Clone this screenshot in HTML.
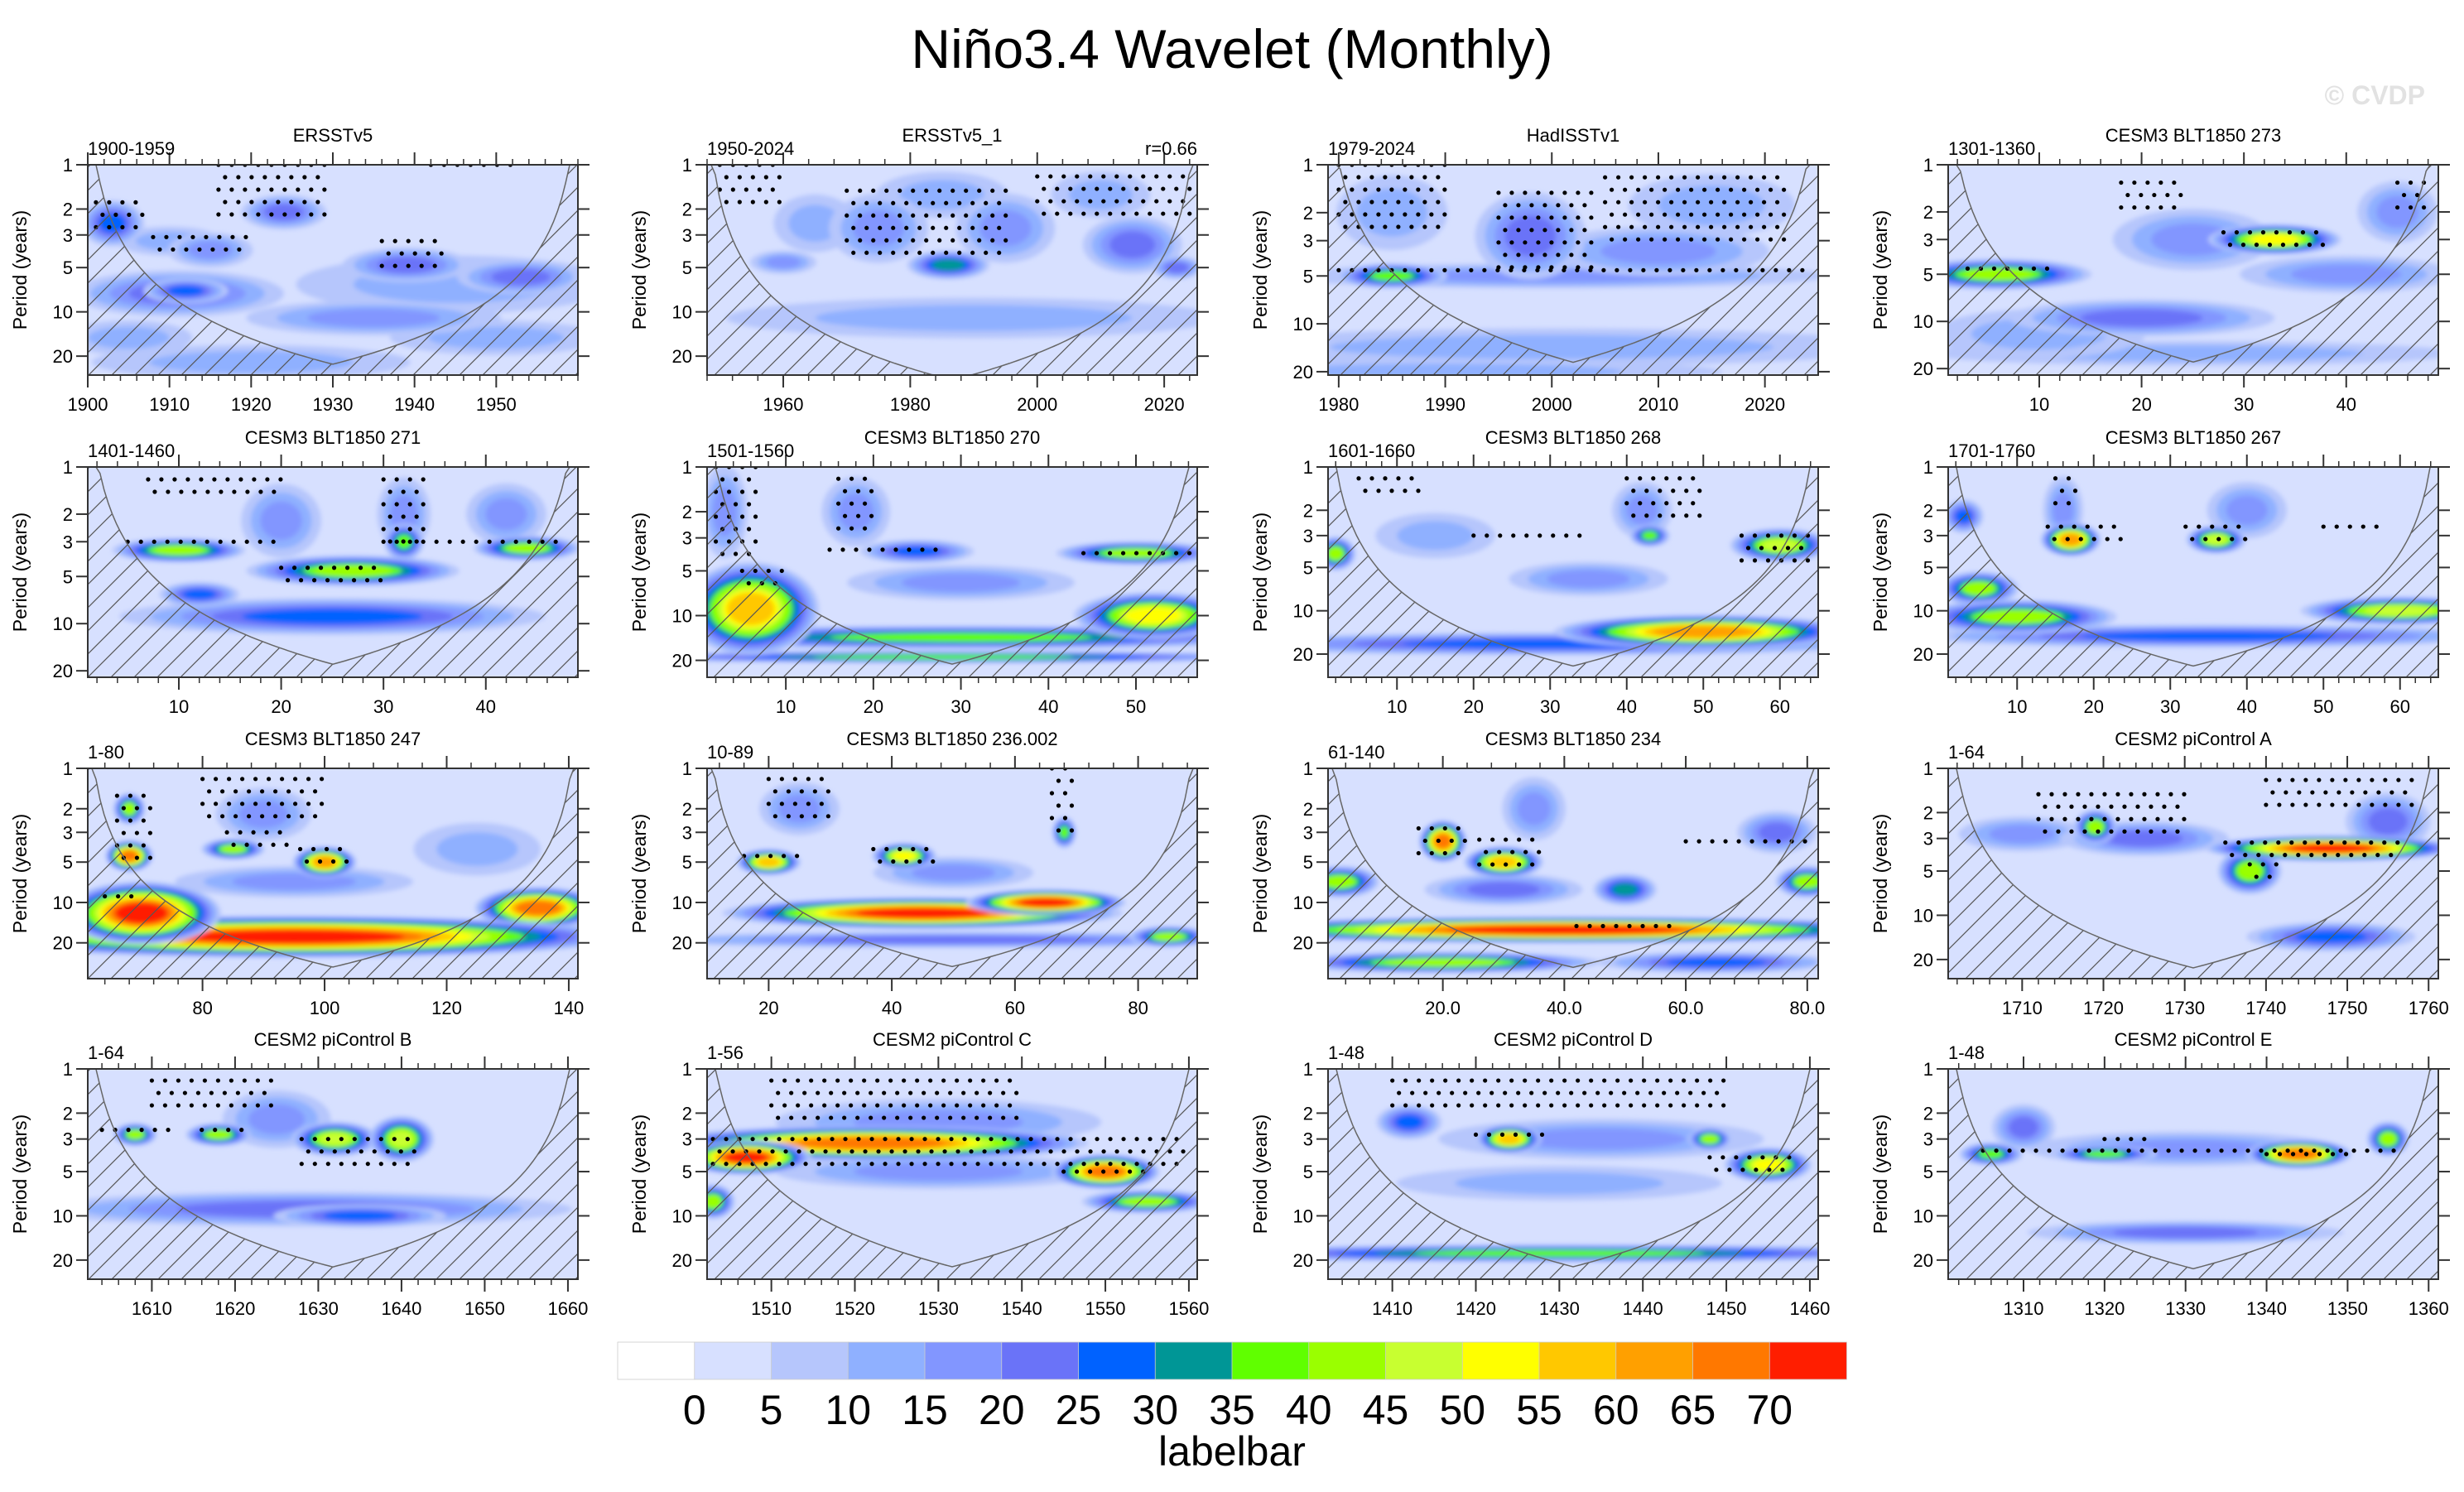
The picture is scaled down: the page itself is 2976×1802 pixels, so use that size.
<!DOCTYPE html>
<html><head><meta charset="utf-8"><style>
html,body{margin:0;padding:0;background:#fff}
svg{display:block;font-family:"Liberation Sans",sans-serif}
</style></head><body>
<svg id="chart" width="2976" height="1802" viewBox="0 0 2976 1802" xmlns="http://www.w3.org/2000/svg">
<defs>
<filter id="soft" x="-20%" y="-20%" width="140%" height="140%"><feGaussianBlur stdDeviation="3"/></filter>
<pattern id="hatch" width="28" height="28" patternUnits="userSpaceOnUse"><path d="M-7,35 L35,-7 M-7,7 L7,-7 M21,35 L35,21" stroke="#555" stroke-width="1.2"/></pattern>
</defs>
<text x="1488" y="82" text-anchor="middle" font-size="66">Niño3.4 Wavelet (Monthly)</text>
<text x="2929" y="126" text-anchor="end" font-size="32" font-weight="bold" fill="#e2e2e2">© CVDP</text>
<g id="panels"></g>
<g id="colorbar"></g>
</svg>
<script>
const levelColors = ["#ffffff","#d7e0ff","#b6c6fc","#8fb0ff","#8296ff","#6a73f8","#0062ff","#009696","#60ff00","#9aff00","#c8ff30","#ffff00","#ffc800","#ffa000","#ff7800","#ff1e00"];
const colorbarLabels = ["0","5","10","15","20","25","30","35","40","45","50","55","60","65","70"];
const panelTitles = ["ERSSTv5","ERSSTv5_1","HadISSTv1","CESM3 BLT1850 273","CESM3 BLT1850 271","CESM3 BLT1850 270","CESM3 BLT1850 268","CESM3 BLT1850 267","CESM3 BLT1850 247","CESM3 BLT1850 236.002","CESM3 BLT1850 234","CESM2 piControl A","CESM2 piControl B","CESM2 piControl C","CESM2 piControl D","CESM2 piControl E"];
const panelRanges = ["1900-1959","1950-2024","1979-2024","1301-1360","1401-1460","1501-1560","1601-1660","1701-1760","1-80","10-89","61-140","1-64","1-64","1-56","1-48","1-48"];
const panelXMin = [1900,1948,1979,1.1,1.1,1,1,1,61.2,10,1.1,1700.9,1602.3,1502.3,1402.3,1300.7];
const panelXMax = [1960,2025.2,2025,49,49,57,65,65,141.5,89.6,81.8,1761.2,1661.2,1561,1461,1361.2];
const panelXTicks = [[1900,1910,1920,1930,1940,1950],[1960,1980,2000,2020],[1980,1990,2000,2010,2020],[10,20,30,40],[10,20,30,40],[10,20,30,40,50],[10,20,30,40,50,60],[10,20,30,40,50,60],[80,100,120,140],[20,40,60,80],[20,40,60,80],[1710,1720,1730,1740,1750,1760],[1610,1620,1630,1640,1650,1660],[1510,1520,1530,1540,1550,1560],[1410,1420,1430,1440,1450,1460],[1310,1320,1330,1340,1350,1360]];
const panelTickDecimals = [0,0,0,0,0,0,0,0,0,0,1,0,0,0,0,0];
const panelPmax = [26.9,26.9,21,22,22,26,29,29,37,37,37,27,27,27,27,27];
const periodTicks = [1,2,3,5,10,20];
// blobs: [time, period, half-width (years), half-height (octaves), level]
const panelBlobs = [
 [[1945,6.5,15,0.5,3],[1935,11,12,0.3,4],[1910,3.3,5,0.25,3],[1915,3.8,4,0.3,4],[1911,7.5,10,0.4,5],[1912,7.2,4,0.22,6],[1903,2.5,3,0.4,6],[1924,2.1,4,0.3,5],[1939,4.8,6,0.3,5],[1953,5.8,6,0.3,5],[1920,22,15,0.3,3],[1950,15,10,0.3,3],[1905,15,6,0.3,3]],
 [[1990,11,30,0.35,3],[1975,2.7,6,0.6,4],[1995,2.7,6,0.6,4],[1986,4.8,5,0.25,7],[1960,4.6,4,0.2,4],[2015,3.5,6,0.5,5],[2022,5,3,0.2,5],[1985,1.6,8,0.4,3],[1965,2.5,5,0.5,3],[2010,1.6,6,0.4,3]],
 [[1985,5,4,0.2,8],[2000,5,20,0.2,4],[1998,2.8,4,0.7,5],[2010,3.5,8,0.4,4],[2000,14,25,0.3,3],[1990,20,20,0.2,3],[2015,1.8,6,0.5,3],[1985,2,4,0.6,3]],
 [[6,5,7,0.25,9],[33,3,5,0.25,11],[20,9.5,10,0.3,5],[25,3,6,0.5,4],[40,5,8,0.3,4],[25,16,20,0.2,3],[45,2,3,0.5,4],[10,12,8,0.4,3]],
 [[10,3.4,5,0.2,9],[27,4.6,8,0.25,9],[32,3,1.5,0.3,8],[44,3.3,4,0.2,9],[25,9,16,0.3,6],[12,6.5,3,0.2,6],[20,2.2,3,0.6,4],[32,2,2,0.6,4],[42,2,3,0.5,4]],
 [[6,9,6,0.8,12],[30,14,30,0.2,8],[50,3.8,7,0.2,9],[52,10,7,0.4,11],[25,3.7,5,0.2,6],[28,19,30,0.1,8],[18,2,3,0.6,4],[3,2,2,0.8,4],[30,6,10,0.3,4]],
 [[50,14,15,0.3,13],[30,17,35,0.2,6],[43,3,2,0.2,8],[60,3.5,5,0.3,10],[2,4,2,0.3,9],[35,6,8,0.3,4],[42,2,3,0.5,4],[15,3,6,0.4,3]],
 [[17,3.2,3,0.3,13],[36,3.2,3,0.25,10],[5,7,4,0.3,9],[10,11,10,0.3,9],[60,10,10,0.25,10],[35,15,30,0.2,6],[3,2.2,2,0.3,6],[16,2,2,0.6,4],[40,2,4,0.5,4]],
 [[95,18,42,0.4,15],[70,12,10,0.6,15],[135,11,8,0.4,14],[68,4.5,3,0.3,14],[68,2,2,0.3,9],[85,4,4,0.2,9],[100,5,4,0.3,13],[95,7,15,0.3,4],[90,2.2,6,0.5,4],[125,4,8,0.5,3]],
 [[20,5,4,0.25,12],[42,4.5,4,0.25,11],[45,12,25,0.3,15],[65,10,10,0.25,15],[85,18,5,0.2,9],[50,19,40,0.15,5],[68,3,1.5,0.3,8],[25,2,5,0.5,4],[50,6,10,0.3,4]],
 [[40,16,45,0.25,15],[20,3.5,3,0.4,14],[30,5,5,0.3,12],[3,7,5,0.3,9],[80,7,4,0.3,9],[20,28,20,0.2,9],[50,8,4,0.3,7],[65,28,15,0.2,6],[30,8,10,0.3,5],[35,2,4,0.6,4],[75,3,5,0.4,5]],
 [[1748,3.5,12,0.22,15],[1738,5,3,0.4,9],[1719,2.5,2,0.3,9],[1748,14,8,0.25,6],[1725,3,8,0.3,5],[1710,2.8,6,0.3,4],[1755,2.3,4,0.5,5]],
 [[1608,2.8,2,0.2,9],[1618,2.8,3,0.2,9],[1632,3,4,0.3,10],[1640,3,3,0.4,10],[1628,9,25,0.3,5],[1625,2.2,5,0.5,4],[1635,10,8,0.2,6]],
 [[1522,3.2,20,0.3,14],[1507,4,6,0.3,15],[1550,5,5,0.3,14],[1555,8,6,0.2,9],[1503,8,2,0.3,9],[1530,2.3,15,0.4,4],[1530,5,15,0.3,4]],
 [[1424,3,3,0.25,12],[1455,4.5,4,0.3,11],[1448,3,2,0.2,9],[1430,18,35,0.15,8],[1412,2.3,3,0.3,6],[1435,3,15,0.35,4],[1430,6,15,0.3,3]],
 [[1344,3.8,5,0.25,14],[1355,3,2,0.3,9],[1320,3.8,5,0.15,8],[1306,3.8,3,0.2,8],[1330,13,15,0.2,5],[1310,2.5,3,0.4,5],[1330,3.5,15,0.3,4]]
];
// significance stipple regions: [t0, t1, p0, p1]
const panelDots = [
 [[1901,1907,1.8,3.2],[1908,1920,3.1,4.2],[1916,1929,1,2.5],[1936,1944,3.3,5],[1942,1952,1,1.2]],
 [[1970,1996,1.5,4.5],[2000,2024,1.2,2.5],[1950,1960,1,2]],
 [[1980,2024,4.6,5.2],[1995,2004,1.5,4.5],[1980,1990,1,2.5],[2005,2022,1.2,3]],
 [[3,12,4.6,5.4],[28,38,2.7,3.6],[18,24,1.3,2],[45,48,1.3,2.2]],
 [[5,20,3,3.6],[20,30,4.4,5.5],[30,47,3,3.6],[7,20,1.2,1.6],[30,34,1.2,3]],
 [[2,7,1,4],[16,20,1.2,3],[15,28,3.6,4.2],[44,57,3.8,4.4],[5,10,5,7]],
 [[5,13,1.2,1.6],[20,34,3,3.6],[40,50,1.2,2.5],[55,64,3,4.5]],
 [[14,24,2.6,3.6],[32,40,2.6,3.6],[15,18,1.2,2],[50,58,2.6,3]],
 [[66,72,1.6,5.5],[84,94,3,4],[96,104,4,5.5],[80,100,1.2,2.6],[64,70,9,11]],
 [[16,26,4.5,5.5],[37,47,4,5],[66,70,1,3],[20,30,1.2,2.5]],
 [[16,24,2.8,5],[26,36,3.4,5.5],[42,58,15,16],[60,80,3.5,4]],
 [[1735,1757,3.2,4.2],[1738,1742,4.5,6],[1712,1730,1.5,2.8],[1740,1758,1.2,1.8]],
 [[1604,1612,2.6,3],[1616,1622,2.6,3],[1628,1642,3,4.8],[1610,1625,1.2,2]],
 [[1503,1560,3,5],[1510,1540,1.2,2.4],[1545,1556,5,6]],
 [[1420,1428,2.8,3.4],[1448,1458,4,5],[1410,1450,1.2,2]],
 [[1305,1356,3.6,4],[1340,1350,3.8,4.6],[1320,1325,3,3.5]]
];

const colLeft = [106,854,1604,2353], rowTop = [199,564,928,1291], PW = 592, PH = 254;
const NS = "http://www.w3.org/2000/svg";
function mk(tag, attrs, parent){const e=document.createElementNS(NS,tag);for(const k in attrs)e.setAttribute(k,attrs[k]);if(parent)parent.appendChild(e);return e;}
const root = document.getElementById('panels');

for(let i=0;i<16;i++){
  const L = colLeft[i%4], T = rowTop[Math.floor(i/4)];
  const x0 = panelXMin[i], x1 = panelXMax[i], pmax = panelPmax[i];
  const xs = t => L + (t-x0)/(x1-x0)*PW;
  const ys = p => T + Math.log(p)/Math.log(pmax)*PH;
  const pxYear = PW/(x1-x0), pxOct = PH/ (Math.log(pmax)/Math.log(2));
  const g = mk('g',{},root);
  
  
  const cid='clip'+i;
  const cp = mk('clipPath',{id:cid},g); mk('rect',{x:L,y:T,width:PW,height:PH},cp);
  const plot = mk('g',{'clip-path':'url(#'+cid+')'},g);
  const bg = mk('rect',{x:L,y:T,width:PW,height:PH,fill:levelColors[1]},plot);
  
  
  const bl = mk('g',{filter:'url(#soft)'},plot);
  const blobs = panelBlobs[i].slice().sort((a,b)=>a[4]-b[4]);
  blobs.forEach(b=>{
    const lev=b[4];
    for(let c=2;c<=lev;c++){
      const s = 1.3*(1-(c-2)/Math.max(1,lev-1)*0.72);
      const e = mk('ellipse',{cx:xs(b[0]),cy:ys(b[1]),rx:b[2]*pxYear*s,ry:b[3]*pxOct*s,fill:levelColors[c]},bl);
      
      
    }
  });
  panelDots[i].forEach(r=>{
    const xa=xs(r[0]),xb=xs(r[1]),ya=ys(r[2]),yb=ys(r[3]);
    let row=0;
    for(let y=ya;y<=yb;y+=15,row++){
      for(let x=xa+(row%2)*8;x<=xb;x+=16){
        const d=mk('circle',{cx:x,cy:y,r:2.6,fill:'#000'},plot);
        
        
      }
    }
  });
  let pts=[];
  for(let k=0;k<=120;k++){
    const t=x0+(x1-x0)*k/120; const d=Math.min(t-x0,x1-t);
    const p=Math.min(pmax,Math.max(1,0.75*d+0.2));
    pts.push(xs(t).toFixed(1)+','+ys(p).toFixed(1));
  }
  const hat = mk('polygon',{points:pts.join(' ')+' '+(L+PW)+','+(T+PH)+' '+L+','+(T+PH),fill:'url(#hatch)',stroke:'none'},plot);
  
  
  const coi = mk('polyline',{points:pts.join(' '),fill:'none',stroke:'#666','stroke-width':1.5},plot);
  
  
  const fr = mk('rect',{x:L,y:T,width:PW,height:PH,fill:'none',stroke:'#333','stroke-width':2},g);
  
  
  periodTicks.forEach(p=>{
    const y=ys(p); if(y>T+PH+1)return;
    mk('line',{x1:L-14,y1:y,x2:L,y2:y,stroke:'#333','stroke-width':2},g);
    mk('line',{x1:L+PW,y1:y,x2:L+PW+14,y2:y,stroke:'#333','stroke-width':2},g);
    const tl=mk('text',{x:L-18,y:y+8,'text-anchor':'end','font-size':22},g); tl.textContent=p;
    
    
  });
  const yt=mk('text',{x:0,y:0,transform:'translate('+(L-74)+','+(T+PH/2)+') rotate(-90)','text-anchor':'middle','font-size':23},g);
  yt.textContent='Period (years)';
  
  
  const tk=panelXTicks[i]; const step=tk[1]-tk[0]; const minor=step/5;
  for(let t=tk[0]-step;t<=x1+0.001;t+=minor){
    if(t<x0-0.001)continue;
    const x=xs(t);
    mk('line',{x1:x,y1:T+PH,x2:x,y2:T+PH+7,stroke:'#333','stroke-width':1.5},g);
    mk('line',{x1:x,y1:T-7,x2:x,y2:T,stroke:'#333','stroke-width':1.5},g);
  }
  tk.forEach(t=>{
    const x=xs(t);
    mk('line',{x1:x,y1:T+PH,x2:x,y2:T+PH+15,stroke:'#333','stroke-width':2},g);
    mk('line',{x1:x,y1:T-15,x2:x,y2:T,stroke:'#333','stroke-width':2},g);
    const tl=mk('text',{x:x,y:T+PH+43,'text-anchor':'middle','font-size':22},g);
    tl.textContent=t.toFixed(panelTickDecimals[i]);
    
    
  });
  const ti=mk('text',{x:L+PW/2,y:T-28,'text-anchor':'middle','font-size':22},g);
  ti.textContent=panelTitles[i];
  
  
  const rl=mk('text',{x:L,y:T-12,'font-size':22},g);
  rl.textContent=panelRanges[i];
  
  
  if(i===1){
    const rt=mk('text',{x:L+PW,y:T-12,'text-anchor':'end','font-size':22},g);
    rt.textContent='r=0.66';
    
    
  }
}
const cb=document.getElementById('colorbar');
const cbL=746, cbR=2230, cbT=1621, cbH=45, bw=(cbR-cbL)/levelColors.length;
levelColors.forEach((c,k)=>{
  const r=mk('rect',{x:cbL+k*bw,y:cbT,width:bw+0.5,height:cbH,fill:c,stroke:'#ccc','stroke-width':0.8},cb);
  
  
});
colorbarLabels.forEach((s,k)=>{
  const t=mk('text',{x:cbL+(k+1)*bw,y:1720,'text-anchor':'middle','font-size':50},cb);
  t.textContent=s;
  
  
});
const lb=mk('text',{x:(cbL+cbR)/2,y:1770,'text-anchor':'middle','font-size':50},cb);
lb.textContent='labelbar';


</script>
</body></html>
